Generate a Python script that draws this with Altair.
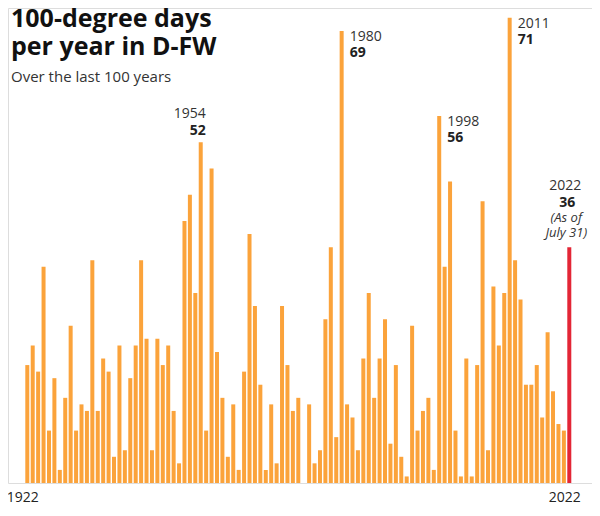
import altair as alt
import pandas as pd

years = list(range(1922, 2023))
days = [
    18, 21, 17, 33, 8, 16, 2, 13, 24, 8,
    12, 11, 34, 11, 19, 17, 4, 21, 5, 16,
    21, 34, 22, 5, 22, 18, 21, 11, 3, 40,
    44, 29, 52, 8, 48, 20, 13, 4, 12, 2,
    17, 38, 27, 15, 2, 12, 3, 27, 18, 11,
    13, 0, 12, 3, 5, 25, 36, 7, 69, 12,
    10, 5, 19, 29, 13, 19, 25, 6, 18, 4,
    1, 24, 8, 11, 13, 2, 56, 33, 46, 8,
    1, 19, 1, 18, 43, 5, 30, 21, 29, 71,
    34, 28, 15, 15, 18, 10, 23, 14, 9, 8,
    36,
]
current_year = 2022

title_lines = ["100-degree days", "per year in D-FW"]
subtitle = "Over the last 100 years"
note_lines = ["(As of", "July 31)"]
axis_years = [1922, 2022]

left_labeled = [1980, 1998, 2011]
right_labeled = [1954]

FONT = "Open Sans"
ORANGE = "#FBA33B"
RED = "#E32636"

df = pd.DataFrame({"year": years, "days": days})
df["current"] = df["year"] == current_year
df["value_label"] = df["days"].astype(str)
df["year_label"] = df["year"].astype(str)

xs = alt.Scale(domain=[1918.44, 2026.19], nice=False, zero=False, padding=0)
ys = alt.Scale(domain=[0, 72.5], nice=False)

x_enc = alt.X(
    "year:Q",
    scale=xs,
    axis=alt.Axis(
        values=axis_years, format="d", title=None, grid=False, ticks=False,
        domain=False, labelFont=FONT, labelFontSize=14, labelColor="#222",
        labelPadding=7, labelFlush=False, labelOffset=-5,
    ),
)
y_enc = alt.Y("days:Q", scale=ys, axis=None)

bars = alt.Chart(df).mark_bar(size=4).encode(
    x=x_enc,
    y=y_enc,
    color=alt.condition("datum.current", alt.value(RED), alt.value(ORANGE)),
)

base_txt = alt.Chart(df)

def ann(years_sel, field, dx, dy, align, weight="normal", style="normal"):
    return base_txt.transform_filter(
        alt.FieldOneOfPredicate(field="year", oneOf=years_sel)
    ).mark_text(
        font=FONT, fontSize=14, dx=dx, dy=dy, align=align, baseline="middle",
        fontWeight=weight, fontStyle=style, color="#222" if weight == "bold" else "#333",
    ).encode(
        x=alt.X("year:Q", scale=xs),
        y=alt.Y("days:Q", scale=ys),
        text=f"{field}:N",
    )

left_year = ann(left_labeled, "year_label", 8, 6, "left")
left_val = ann(left_labeled, "value_label", 8, 22, "left", weight="bold")
right_year = ann(right_labeled, "year_label", 5, -28, "right")
right_val = ann(right_labeled, "value_label", 5, -11, "right", weight="bold")
cur_year = ann([current_year], "year_label", -4, -61, "center")
cur_val = ann([current_year], "value_label", -2, -44, "center", weight="bold")

note_df = pd.DataFrame({"year": [current_year], "days": [days[-1]], "note": ["\n".join(note_lines)]})
cur_note = alt.Chart(note_df).mark_text(
    font=FONT, fontSize=13, dx=-3, dy=-29, align="center", baseline="middle",
    fontStyle="italic", color="#333", lineBreak="\n", lineHeight=15,
).encode(
    x=alt.X("year:Q", scale=xs),
    y=alt.Y("days:Q", scale=ys),
    text="note:N",
)

title_df = pd.DataFrame({"t": title_lines, "i": list(range(len(title_lines)))})
title1 = alt.Chart(title_df).transform_filter("datum.i == 0").mark_text(
    font=FONT, fontSize=25, fontWeight="bold", align="left", baseline="alphabetic", color="#111",
).encode(x=alt.value(3), y=alt.value(19), text="t:N")
title2 = alt.Chart(title_df).transform_filter("datum.i == 1").mark_text(
    font=FONT, fontSize=25, fontWeight="bold", align="left", baseline="alphabetic", color="#111",
).encode(x=alt.value(3), y=alt.value(46.5), text="t:N")
sub_df = pd.DataFrame({"t": [subtitle]})
sub = alt.Chart(sub_df).mark_text(
    font=FONT, fontSize=15, align="left", baseline="alphabetic", color="#333",
).encode(x=alt.value(3), y=alt.value(74), text="t:N")

chart = alt.layer(
    bars, left_year, left_val, right_year, right_val, cur_year, cur_val, cur_note,
    title1, title2, sub,
).properties(
    width=584, height=475,
    padding={"left": 0, "right": 0, "top": 0, "bottom": 25},
    autosize=alt.AutoSizeParams(type="none"),
).configure_view(strokeWidth=0).configure(background="white")

chart.save("out.html", embed_options={"renderer": "svg", "actions": False})
